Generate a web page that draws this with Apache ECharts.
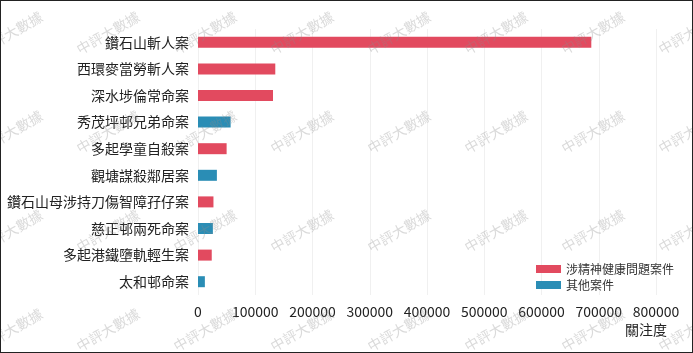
<!DOCTYPE html>
<html>
<head>
<meta charset="utf-8">
<script src="https://cdn.jsdelivr.net/npm/echarts@6/dist/echarts.min.js"></script>
<style>
  html, body { margin: 0; padding: 0; background: #fff; }
  #container { width: 693px; height: 353px; box-sizing: border-box; border: 1px solid #222; }
</style>
</head>
<body>
<div id="container"></div>
<script>
var dom = document.getElementById("container");
var myChart = echarts.init(dom);

// categories, top to bottom
var cases = ['鑽石山斬人案', '西環麥當勞斬人案', '深水埗倫常命案', '秀茂坪邨兄弟命案', '多起學童自殺案',
             '觀塘謀殺鄰居案', '鑽石山母涉持刀傷智障孖仔案', '慈正邨兩死命案', '多起港鐵墮軌輕生案', '太和邨命案'];
// '-' where the case belongs to the other group
var mentalCases = [687000, 135000, 131000, '-', 50000, '-', 27000, '-', 24000, '-'];
var otherCases = ['-', '-', '-', 57000, '-', 33000, '-', 26000, '-', 12000];
var seriesNames = ['涉精神健康問題案件', '其他案件'];

// watermark
var marks = [];
for (var r = 0; r < 4; r++) {
    for (var c = 0; c < 8; c++) {
        marks.push({
            type: 'text',
            x: 10 + c * 97,
            y: 32 + r * 99,
            rotation: Math.PI / 6,
            z: 100,
            silent: true,
            style: {
                text: '中評大數據',
                fill: 'rgba(140,140,140,0.32)',
                font: '14px "Noto Sans CJK TC"',
                align: 'center',
                verticalAlign: 'middle'
            }
        });
    }
}

var option = {
    animation: false,
    textStyle: { fontFamily: 'Noto Sans CJK TC' },
    grid: { left: 197, right: 36, top: 28, bottom: 57 },
    legend: {
        orient: 'vertical',
        left: 530,
        top: 257,
        itemWidth: 25,
        itemHeight: 8,
        itemGap: 4,
        icon: 'rect',
        textStyle: { fontSize: 12, color: '#333' },
        data: seriesNames
    },
    xAxis: {
        type: 'value',
        min: 0,
        max: 800000,
        interval: 100000,
        name: '關注度',
        nameLocation: 'end',
        nameGap: 11,
        nameTextStyle: { fontSize: 14, color: '#222', align: 'right', verticalAlign: 'top', padding: [28, 0, 0, 0] },
        axisLine: { show: false },
        axisTick: { show: false },
        axisLabel: { fontSize: 14, color: '#222', margin: 10, formatter: function (v) { return String(v); } },
        splitLine: { lineStyle: { color: '#f0f0f0' } }
    },
    yAxis: {
        type: 'category',
        inverse: true,
        data: cases,
        axisLine: { show: false },
        axisTick: { show: false },
        axisLabel: { fontSize: 14, color: '#222', margin: 9 }
    },
    series: [
        {
            name: seriesNames[0],
            type: 'bar',
            stack: 'all',
            barWidth: 11,
            itemStyle: { color: '#e24a5f' },
            data: mentalCases
        },
        {
            name: seriesNames[1],
            type: 'bar',
            stack: 'all',
            barWidth: 11,
            itemStyle: { color: '#2a8db5' },
            data: otherCases
        }
    ],
    graphic: marks
};

myChart.setOption(option);
</script>
</body>
</html>
